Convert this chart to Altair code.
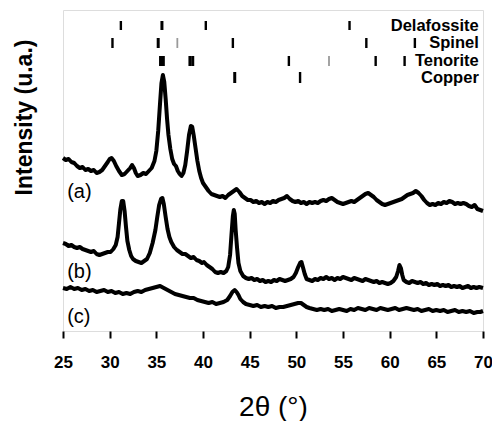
import altair as alt
import pandas as pd

# ---- XRD curves (2theta in degrees, intensity in arbitrary units) ----
a_x = [25.0, 25.3, 25.6, 25.9, 26.2, 26.5, 26.8, 27.1, 27.4, 27.7, 28.0, 28.3, 28.6, 28.9, 29.2, 29.5,
       29.8, 30.0, 30.2, 30.45, 30.7, 31.0, 31.3, 31.6, 31.9, 32.2, 32.4, 32.6, 32.8, 33.0, 33.3, 33.6,
       33.9, 34.2, 34.5, 34.8, 35.0, 35.2, 35.4, 35.55, 35.7, 35.85, 36.0, 36.15, 36.3, 36.5, 36.7,
       36.9, 37.1, 37.3, 37.5, 37.7, 37.9, 38.1, 38.3, 38.5, 38.7, 38.85, 39.0, 39.2, 39.4, 39.6,
       39.8, 40.0, 40.3, 40.6, 40.9, 41.2, 41.5, 41.8, 42.1, 42.4, 42.7, 43.0, 43.3, 43.6, 43.9,
       44.2, 44.5, 44.8, 45.1, 45.4, 45.7, 46.0, 46.3, 46.6, 46.9, 47.2, 47.5, 47.8, 48.1, 48.4,
       48.7, 49.0, 49.3, 49.6, 49.9, 50.2, 50.5, 50.8, 51.1, 51.4, 51.7, 52.0, 52.3, 52.6, 52.9,
       53.2, 53.5, 53.8, 54.1, 54.4, 54.7, 55.0, 55.3, 55.6, 55.9, 56.2, 56.5, 56.8, 57.1, 57.4,
       57.7, 58.0, 58.3, 58.6, 58.9, 59.2, 59.5, 59.8, 60.1, 60.4, 60.7, 61.0, 61.3, 61.6, 61.9,
       62.2, 62.5, 62.8, 63.1, 63.4, 63.7, 64.0, 64.3, 64.6, 64.9, 65.2, 65.5, 65.8, 66.1, 66.4,
       66.7, 67.0, 67.3, 67.6, 67.9, 68.2, 68.5, 68.8, 69.1, 69.4, 69.7, 70.0]
a_y = [173, 171, 172, 169, 168, 165, 163, 164, 161, 162, 160, 161, 158, 159, 161, 165,
       169, 172, 173, 170, 165, 160, 156, 157, 160, 163, 166, 163, 158, 155, 156, 158,
       157, 160, 163, 170, 180, 200, 228, 248, 256, 249, 232, 212, 196, 182, 172,
       167, 165, 160, 157, 155, 158, 166, 180, 196, 205, 204, 196, 183, 170, 160,
       153, 148, 144, 140, 137, 136, 135, 134, 135, 133, 136, 138, 140, 142, 139,
       135, 133, 131, 131, 129, 130, 128, 129, 127, 129, 128, 130, 129, 131, 132,
       133, 135, 132, 130, 129, 130, 128, 129, 127, 129, 128, 129, 128, 130, 131,
       130, 132, 133, 131, 129, 128, 127, 128, 129, 130, 129, 131, 133, 135, 137,
       138, 136, 134, 131, 129, 127, 126, 127, 128, 129, 130, 131, 132, 134, 136,
       137, 138, 140, 138, 135, 131, 128, 126, 127, 126, 128, 127, 129, 128, 130,
       129, 127, 128, 127, 128, 127, 125, 124, 126, 122, 121, 120]

b_x = [25.0, 25.3, 25.6, 25.9, 26.2, 26.5, 26.8, 27.1, 27.4, 27.7, 28.0, 28.3, 28.6, 28.9, 29.2, 29.5,
       29.8, 30.1, 30.4, 30.65, 30.85, 31.0, 31.15, 31.3, 31.45, 31.6, 31.75, 31.9, 32.1, 32.3, 32.5,
       32.8, 33.1, 33.4, 33.7, 34.0, 34.3, 34.6, 34.9, 35.1, 35.3, 35.5, 35.65, 35.8, 36.0, 36.2,
       36.4, 36.6, 36.9, 37.2, 37.5, 37.8, 38.1, 38.4, 38.7, 39.0, 39.3, 39.6, 39.9, 40.1, 40.4,
       40.7, 41.0, 41.3, 41.6, 41.9, 42.2, 42.5, 42.7, 42.9, 43.05, 43.2, 43.3, 43.4, 43.5, 43.65,
       43.8, 44.0, 44.3, 44.6, 44.9, 45.2, 45.5, 45.8, 46.1, 46.4, 46.7, 47.0, 47.3, 47.6, 47.9,
       48.2, 48.5, 48.8, 49.1, 49.4, 49.7, 49.95, 50.2, 50.4, 50.55, 50.7, 50.9, 51.1, 51.4, 51.7,
       52.0, 52.3, 52.6, 52.9, 53.2, 53.5, 53.8, 54.1, 54.4, 54.7, 55.0, 55.3, 55.6, 55.9, 56.2,
       56.5, 56.8, 57.1, 57.4, 57.7, 58.0, 58.3, 58.6, 58.9, 59.2, 59.5, 59.8, 60.1, 60.4, 60.7,
       60.9, 61.05, 61.2, 61.35, 61.5, 61.8, 62.1, 62.4, 62.7, 63.0, 63.3, 63.6, 63.9, 64.2, 64.5,
       64.8, 65.1, 65.4, 65.7, 66.0, 66.3, 66.6, 66.9, 67.2, 67.5, 67.8, 68.1, 68.4, 68.7, 69.0,
       69.3, 69.6, 70.0]
b_y = [88, 87, 85, 86, 84, 83, 84, 82, 81, 80, 79, 80, 77, 76, 77, 78,
       79, 79, 82, 86, 94, 108, 122, 130, 130, 120, 104, 90, 81, 75, 72,
       70, 69, 68, 70, 72, 78, 88, 101, 114, 126, 132, 133, 127, 114, 102,
       94, 89, 84, 81, 79, 77, 77, 75, 73, 74, 71, 70, 68, 69, 66,
       64, 62, 59, 58, 59, 58, 60, 64, 76, 96, 115, 121, 117, 101, 83,
       68, 60, 55, 53, 52, 53, 51, 52, 50, 51, 49, 50, 49, 51, 50,
       52, 51, 50, 51, 52, 54, 58, 64, 68, 69, 64, 57, 52, 51, 50,
       52, 51, 53, 52, 54, 52, 53, 51, 53, 52, 54, 53, 52, 51, 53,
       52, 51, 50, 52, 51, 50, 49, 50, 48, 49, 48, 47, 48, 50, 54,
       60, 66, 63, 56, 51, 49, 48, 50, 49, 48, 49, 47, 48, 46, 47,
       46, 47, 45, 46, 45, 46, 44, 45, 44, 45, 43, 44, 45, 43, 44,
       43, 44, 43]

c_x = [25.0, 25.4, 25.8, 26.2, 26.6, 27.0, 27.4, 27.8, 28.2, 28.6, 29.0, 29.4, 29.8, 30.2, 30.6, 31.0,
       31.4, 31.8, 32.2, 32.6, 33.0, 33.4, 33.8, 34.2, 34.6, 35.0, 35.4, 35.8, 36.2, 36.6, 37.0,
       37.4, 37.8, 38.2, 38.6, 39.0, 39.4, 39.8, 40.2, 40.6, 41.0, 41.4, 41.8, 42.2, 42.6, 42.9,
       43.15, 43.4, 43.6, 43.8, 44.0, 44.3, 44.6, 45.0, 45.4, 45.8, 46.2, 46.6, 47.0, 47.4, 47.8,
       48.2, 48.6, 49.0, 49.4, 49.8, 50.2, 50.5, 50.8, 51.1, 51.4, 51.8, 52.2, 52.6, 53.0, 53.4,
       53.8, 54.2, 54.6, 55.0, 55.4, 55.8, 56.2, 56.6, 57.0, 57.4, 57.8, 58.2, 58.6, 59.0, 59.4,
       59.8, 60.2, 60.6, 61.0, 61.4, 61.8, 62.2, 62.6, 63.0, 63.4, 63.8, 64.2, 64.6, 65.0, 65.4,
       65.8, 66.2, 66.6, 67.0, 67.4, 67.8, 68.2, 68.6, 69.0, 69.4, 69.7, 70.0]
c_y = [43, 42, 44, 42, 43, 41, 42, 40, 41, 39, 40, 41, 39, 40, 38, 39,
       37, 38, 37, 39, 40, 39, 41, 42, 43, 44, 45, 43, 41, 39, 37,
       36, 35, 34, 33, 33, 31, 30, 29, 28, 29, 27, 28, 29, 31, 35,
       39, 41, 39, 36, 32, 29, 27, 26, 25, 26, 24, 25, 24, 25, 23,
       24, 24, 25, 26, 27, 28, 28, 26, 24, 23, 22, 21, 22, 21, 22,
       20, 21, 22, 21, 20, 22, 21, 23, 22, 21, 23, 22, 21, 23, 22,
       21, 22, 23, 21, 22, 23, 22, 21, 22, 20, 21, 22, 20, 21, 20,
       21, 19, 20, 21, 19, 20, 19, 20, 18, 19, 19, 20]

# ---- reference pattern markers ----
phases = ["Delafossite", "Spinel", "Tenorite", "Copper"]
delafossite_pos = [31.2, 35.6, 40.3, 55.7]
delafossite_str = ["medium", "strong", "medium", "medium"]
spinel_pos = [30.3, 35.2, 37.25, 43.2, 57.5, 62.7]
spinel_str = ["medium", "strong", "weak", "medium", "medium", "medium"]
tenorite_pos = [35.45, 35.75, 38.6, 38.9, 49.2, 53.5, 58.5, 61.6]
tenorite_str = ["strong", "strong", "strong", "strong", "medium", "weak", "medium", "medium"]
copper_pos = [43.4, 50.4]
copper_str = ["strong", "medium"]

sample_labels = ["(a)", "(b)", "(c)"]

# ---- layout constants (rows of markers, label baselines) ----
row_span = {"Delafossite": (301, 310), "Spinel": (283, 293), "Tenorite": (265, 275), "Copper": (248, 259)}
row_text = {"Delafossite": 300, "Spinel": 283, "Tenorite": 265, "Copper": 248}
label_y = [133, 53, 8]

curves = pd.concat([
    pd.DataFrame({"t": a_x, "i": a_y, "s": "a"}),
    pd.DataFrame({"t": b_x, "i": b_y, "s": "b"}),
    pd.DataFrame({"t": c_x, "i": c_y, "s": "c"}),
])

rows = []
for name, pos, strg in [("Delafossite", delafossite_pos, delafossite_str),
                        ("Spinel", spinel_pos, spinel_str),
                        ("Tenorite", tenorite_pos, tenorite_str),
                        ("Copper", copper_pos, copper_str)]:
    for p, s in zip(pos, strg):
        rows.append({"phase": name, "t": p, "strength": s,
                     "y1": row_span[name][0], "y2": row_span[name][1]})
markers = pd.DataFrame(rows)

phase_text = pd.DataFrame({"phase": phases, "t": [69.55] * 4, "y": [row_text[p] for p in phases]})
sample_text = pd.DataFrame({"lab": sample_labels, "t": [25.45] * 3, "y": label_y})

FONT = "Liberation Sans"

xscale = alt.Scale(domain=[25, 70], nice=False, zero=False)
yscale = alt.Scale(domain=[0, 321], nice=False, zero=False)

xaxis = alt.Axis(values=list(range(25, 71, 5)), grid=False, domain=False,
                 tickColor="black", tickWidth=2, tickSize=7,
                 labelFont=FONT, labelFontSize=17, labelFontWeight="bold", labelColor="black",
                 labelPadding=16, labelFlush=False, labelOverlap=False,
                 title="2θ (°)", titleFont=FONT, titleFontSize=28, titleFontWeight="normal",
                 titleColor="black", titleY=84, titleBaseline="alphabetic")
yaxis = alt.Axis(labels=False, ticks=False, domain=False, grid=False,
                 title="Intensity (u.a.)", titleFont=FONT, titleFontSize=23,
                 titleFontWeight="bold", titleColor="black", titleX=-32, titleY=107,
                 titleAngle=270, titleBaseline="alphabetic", titleAlign="center")

lines = alt.Chart(curves).mark_line(color="black", strokeWidth=4, strokeJoin="round").encode(
    x=alt.X("t:Q", scale=xscale, axis=xaxis),
    y=alt.Y("i:Q", scale=yscale, axis=yaxis),
    detail="s:N",
)

ticks = alt.Chart(markers).mark_rule().encode(
    x=alt.X("t:Q", scale=xscale),
    y=alt.Y("y1:Q", scale=yscale),
    y2="y2:Q",
    color=alt.Color("strength:N", legend=None,
                    scale=alt.Scale(domain=["strong", "medium", "weak"], range=["black", "black", "#9a9a9a"])),
    strokeWidth=alt.StrokeWidth("strength:N", legend=None,
                                scale=alt.Scale(domain=["strong", "medium", "weak"], range=[3, 1.8, 1.5])),
)

ptext = alt.Chart(phase_text).mark_text(align="right", baseline="alphabetic", font=FONT,
                                        fontSize=16.5, fontWeight="bold", color="black").encode(
    x=alt.X("t:Q", scale=xscale), y=alt.Y("y:Q", scale=yscale), text="phase:N")

stext = alt.Chart(sample_text).mark_text(align="left", baseline="alphabetic", font=FONT,
                                         fontSize=20, color="black").encode(
    x=alt.X("t:Q", scale=xscale), y=alt.Y("y:Q", scale=yscale), text="lab:N")

chart = alt.layer(lines, ticks, ptext, stext).properties(
    width=420, height=321,
    padding={"left": 55, "top": 2, "right": 9, "bottom": 90},
    autosize=alt.AutoSizeParams(type="none"),
).configure_view(stroke="black", strokeWidth=2).configure(background="white")

chart.save("out.html", embed_options={"renderer": "svg", "actions": False})
